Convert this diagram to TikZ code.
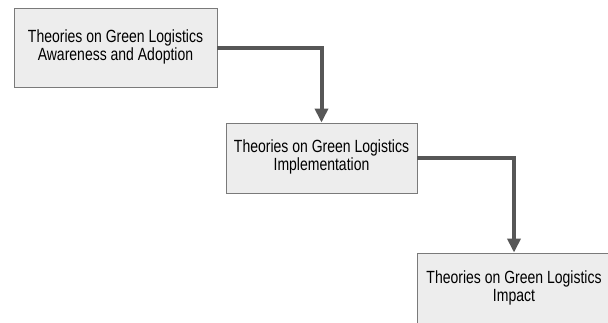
\documentclass[tikz,border=0pt]{standalone}
\usepackage{fontspec}
\usepackage{graphicx}
\setmainfont{Liberation Sans}
\usetikzlibrary{arrows.meta}

\definecolor{boxfill}{HTML}{EDEDED}
\definecolor{boxline}{HTML}{7A7A7A}
\definecolor{linkgray}{HTML}{575757}

% 文字纵向拉伸
\newcommand\tallrows[1]{\scalebox{1}[1.26]{\begin{tabular}{@{}c@{}}#1\end{tabular}}}

\begin{document}
\begin{tikzpicture}[
        x=1pt, y=-1pt,
        % 方框样式
        stagebox/.style={
            draw=boxline, fill=boxfill, line width=0.9pt,
            align=center, inner sep=0pt,
            font=\fontsize{14}{14}\selectfont
        },
        % 连线样式
        link/.style={
            draw=linkgray, line width=4pt,
            -{Triangle[width=13pt,length=14pt]}
        },
    ]

    \useasboundingbox (0,0) rectangle (608,322);
    \fill[white] (0,0) rectangle (608,322);

    % ---- 三个阶段 ----
    \node[stagebox, minimum width=203pt, minimum height=79pt] (aware) at (115.5,47.5)
        {\tallrows{Theories on Green Logistics\\Awareness and Adoption}};
    \node[stagebox, minimum width=191pt, minimum height=70pt] (impl) at (321.5,158)
        {\tallrows{Theories on Green Logistics\\Implementation}};
    \node[stagebox, minimum width=194pt, minimum height=72pt] (impact) at (514,289)
        {\tallrows{Theories on Green Logistics\\Impact}};

    % ---- 连线 ----
    \draw[link] (aware.east) -| (impl.north);
    \draw[link] (impl.east) -| (impact.north);

\end{tikzpicture}
\end{document}
